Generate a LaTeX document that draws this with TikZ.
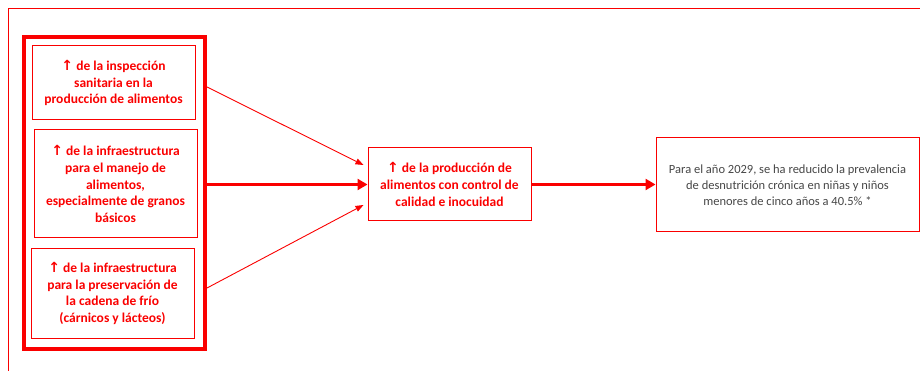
\documentclass[tikz,border=0pt]{standalone}
\usepackage{fontspec}
\setmainfont{Carlito}
\newfontfamily\arrowfont{DejaVu Sans}
\usetikzlibrary{arrows.meta}
\definecolor{myred}{RGB}{250,0,0}
\definecolor{mygray}{RGB}{70,70,70}
\newcommand{\upar}{{\arrowfont\bfseries\fontsize{14}{14}\selectfont ↑}}
\tikzset{
  redbox/.style={draw=myred, line width=1pt, minimum width=163pt, inner sep=0pt, align=center,
    text=myred, font=\bfseries\fontsize{13.5}{16.6}\selectfont},
  bigbox/.style={draw=myred, line width=4pt, minimum width=181pt, minimum height=312pt, inner sep=0pt},
  thinarrow/.style={draw=myred, line width=0.9pt, -{Triangle[length=8pt,width=6pt]}},
  thickarrow/.style={draw=myred, line width=3.2pt, -{Triangle[length=10pt,width=11pt]}},
}
\begin{document}
\begin{tikzpicture}[x=1pt,y=-1pt]
\useasboundingbox (0,0) rectangle (920,371);
\draw[myred, line width=1pt] (8,371) -- (8,9) -- (920,9);
\node[bigbox] (big) at (114.5,193) {};
\node[redbox, minimum height=74pt] (b1) at (113.5,83)
  {\upar\ de la inspección\\sanitaria en la\\producción de alimentos};
\node[redbox, minimum height=108pt] (b2) at (115.5,184)
  {\upar\ de la infraestructura\\para el manejo de\\alimentos,\\especialmente de granos\\básicos};
\node[redbox, minimum height=89pt] (b3) at (112.5,293.5)
  {\upar\ de la infraestructura\\para la preservación de\\la cadena de frío\\(cárnicos y lácteos)};
\node[redbox, minimum height=73pt] (mid) at (449.5,184.5)
  {\upar\ de la producción de\\alimentos con control de\\calidad e inocuidad};
\node[draw=myred, line width=1pt, minimum width=263pt, minimum height=94pt, inner sep=0pt,
  align=center, text=mygray, font=\fontsize{12.5}{15.8}\selectfont] (res) at (787.5,185)
  {Para el año 2029, se ha reducido la prevalencia\\de desnutrición crónica en niñas y niños\\menores de cinco años a 40.5\% *};
\draw[thinarrow] ([yshift=-4pt]big.east |- b1) -- ([xshift=-4pt,yshift=19.5pt]mid.west);
\draw[thinarrow] ([yshift=5.5pt]big.east |- b3) -- ([xshift=-4pt,yshift=-20.5pt]mid.west);
\draw[thickarrow] (big.east |- mid.west) -- (mid.west);
\draw[thickarrow] (mid.east) -- (mid.east -| res.west);
\end{tikzpicture}
\end{document}
